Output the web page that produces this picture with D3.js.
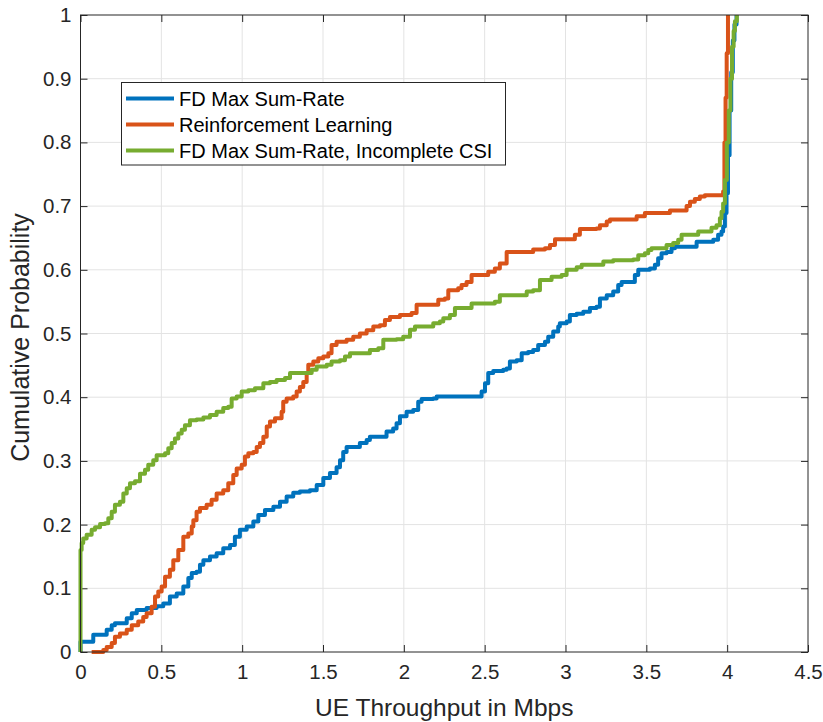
<!DOCTYPE html>
<html>
<head>
<meta charset="utf-8">
<script src="https://cdn.jsdelivr.net/npm/d3@7"></script>
<style>
  html, body { margin: 0; padding: 0; background: #ffffff; }
  svg { display: block; font-family: "Liberation Sans", Arial, Helvetica, sans-serif; }
</style>
</head>
<body>
<svg id="chart" width="823" height="722"></svg>
<script>
// Empirical CDF of per-UE throughput (Mbps) for three schemes.
const seriesNames = ["FD Max Sum-Rate", "Reinforcement Learning", "FD Max Sum-Rate, Incomplete CSI"];
const seriesColors = ["#0072BD", "#D95319", "#77AC30"];

const xTicks = [0, 0.5, 1, 1.5, 2, 2.5, 3, 3.5, 4, 4.5];
const yTicks = [0, 0.1, 0.2, 0.3, 0.4, 0.5, 0.6, 0.7, 0.8, 0.9, 1];
const xLabel = "UE Throughput in Mbps";
const yLabel = "Cumulative Probability";

// FD Max Sum-Rate: [throughput, probability]
const fdMaxSumRate = [
  [0.0,0.0],[0.0,0.016],[0.079,0.016],[0.079,0.027],[0.152,0.027],[0.162,0.035],[0.193,0.042],[0.213,0.045],
  [0.265,0.045],[0.286,0.053],[0.317,0.061],[0.348,0.066],[0.409,0.069],[0.471,0.072],[0.512,0.076],
  [0.553,0.087],[0.595,0.092],[0.636,0.103],[0.667,0.116],[0.688,0.124],[0.718,0.126],[0.739,0.137],
  [0.760,0.144],[0.801,0.150],[0.842,0.155],[0.883,0.163],[0.925,0.168],[0.955,0.181],[0.986,0.192],
  [1.028,0.197],[1.069,0.205],[1.100,0.215],[1.141,0.223],[1.193,0.228],[1.234,0.236],[1.275,0.244],
  [1.316,0.250],[1.357,0.252],[1.419,0.254],[1.461,0.262],[1.502,0.273],[1.543,0.281],[1.584,0.290],
  [1.605,0.301],[1.625,0.314],[1.646,0.322],[1.708,0.322],[1.728,0.328],[1.770,0.333],[1.790,0.338],
  [1.852,0.338],[1.893,0.346],[1.934,0.351],[1.955,0.359],[1.976,0.370],[2.017,0.377],[2.058,0.380],
  [2.089,0.393],[2.110,0.397],[2.182,0.398],[2.203,0.401],[2.450,0.401],[2.481,0.409],[2.502,0.422],
  [2.522,0.438],[2.553,0.441],[2.615,0.443],[2.636,0.445],[2.656,0.456],[2.698,0.458],[2.729,0.469],
  [2.769,0.471],[2.800,0.474],[2.831,0.482],[2.873,0.487],[2.893,0.495],[2.924,0.503],[2.955,0.511],
  [2.965,0.516],[3.007,0.519],[3.027,0.529],[3.069,0.531],[3.110,0.534],[3.151,0.540],[3.192,0.542],
  [3.213,0.555],[3.255,0.560],[3.295,0.566],[3.326,0.576],[3.347,0.581],[3.409,0.581],[3.429,0.592],
  [3.450,0.600],[3.522,0.602],[3.553,0.608],[3.573,0.618],[3.594,0.626],[3.625,0.628],[3.656,0.634],
  [3.677,0.636],[3.790,0.636],[3.811,0.644],[3.914,0.647],[3.944,0.655],[3.965,0.660],[3.975,0.668],
  [3.986,0.689],[3.996,0.720],[4.005,0.780],[4.015,0.850],[4.025,0.910],[4.035,0.960],[4.045,0.985],[4.058,1.0]
];

// Reinforcement Learning
const reinforcementLearning = [
  [0.069,0.0],[0.141,0.003],[0.162,0.008],[0.193,0.014],[0.213,0.024],[0.244,0.029],[0.286,0.035],
  [0.317,0.042],[0.357,0.048],[0.388,0.055],[0.409,0.061],[0.440,0.071],[0.461,0.087],[0.481,0.095],
  [0.502,0.103],[0.523,0.118],[0.553,0.129],[0.574,0.144],[0.605,0.160],[0.636,0.181],[0.667,0.186],
  [0.688,0.197],[0.698,0.207],[0.718,0.220],[0.739,0.226],[0.780,0.231],[0.811,0.239],[0.842,0.249],
  [0.883,0.254],[0.914,0.265],[0.945,0.278],[0.966,0.288],[0.997,0.294],[1.017,0.307],[1.038,0.312],
  [1.069,0.314],[1.090,0.322],[1.110,0.328],[1.131,0.338],[1.152,0.354],[1.172,0.362],[1.203,0.367],
  [1.244,0.377],[1.254,0.393],[1.275,0.398],[1.316,0.401],[1.337,0.409],[1.357,0.416],[1.378,0.424],
  [1.399,0.438],[1.409,0.451],[1.440,0.456],[1.471,0.461],[1.502,0.464],[1.533,0.469],[1.553,0.482],
  [1.584,0.487],[1.646,0.490],[1.687,0.495],[1.728,0.500],[1.770,0.505],[1.811,0.511],[1.852,0.513],
  [1.883,0.521],[1.914,0.526],[1.976,0.529],[2.048,0.532],[2.079,0.545],[2.192,0.545],[2.213,0.553],
  [2.254,0.555],[2.275,0.568],[2.336,0.571],[2.357,0.576],[2.388,0.581],[2.419,0.592],[2.491,0.592],
  [2.522,0.597],[2.563,0.602],[2.594,0.610],[2.636,0.628],[2.790,0.628],[2.800,0.632],[2.873,0.634],
  [2.904,0.639],[2.935,0.648],[3.038,0.648],[3.058,0.655],[3.089,0.664],[3.192,0.665],[3.213,0.670],
  [3.255,0.676],[3.275,0.679],[3.419,0.679],[3.440,0.684],[3.491,0.689],[3.625,0.689],[3.646,0.693],
  [3.728,0.693],[3.749,0.700],[3.770,0.707],[3.800,0.711],[3.831,0.715],[3.862,0.717],[3.955,0.717],
  [3.975,0.723],[3.983,0.800],[3.990,0.870],[3.997,0.940],[4.005,1.0]
];

// FD Max Sum-Rate with incomplete CSI
const fdIncompleteCsi = [
  [0.0,0.0],[0.0,0.160],[0.007,0.171],[0.017,0.178],[0.038,0.184],[0.069,0.192],[0.090,0.196],
  [0.121,0.201],[0.152,0.202],[0.172,0.210],[0.193,0.220],[0.213,0.231],[0.244,0.236],[0.265,0.249],
  [0.286,0.257],[0.306,0.265],[0.337,0.268],[0.368,0.280],[0.399,0.286],[0.419,0.294],[0.450,0.301],
  [0.471,0.309],[0.523,0.312],[0.543,0.320],[0.564,0.328],[0.584,0.335],[0.605,0.343],[0.626,0.349],
  [0.646,0.356],[0.677,0.364],[0.718,0.365],[0.760,0.368],[0.801,0.372],[0.842,0.377],[0.883,0.383],
  [0.914,0.385],[0.935,0.398],[0.966,0.401],[0.997,0.409],[1.038,0.411],[1.079,0.414],[1.131,0.422],
  [1.172,0.424],[1.213,0.427],[1.265,0.430],[1.296,0.438],[1.388,0.438],[1.430,0.443],[1.461,0.448],
  [1.502,0.448],[1.523,0.451],[1.553,0.456],[1.605,0.458],[1.636,0.464],[1.667,0.469],[1.749,0.469],
  [1.790,0.474],[1.842,0.477],[1.873,0.490],[1.955,0.491],[1.996,0.495],[2.038,0.506],[2.069,0.511],
  [2.161,0.511],[2.182,0.516],[2.223,0.519],[2.244,0.524],[2.285,0.529],[2.316,0.540],[2.388,0.540],
  [2.419,0.547],[2.563,0.550],[2.594,0.560],[2.729,0.560],[2.760,0.566],[2.800,0.568],[2.842,0.584],
  [2.893,0.584],[2.914,0.589],[2.976,0.592],[3.007,0.600],[3.069,0.604],[3.100,0.608],[3.213,0.608],
  [3.234,0.613],[3.295,0.615],[3.419,0.616],[3.450,0.623],[3.491,0.626],[3.512,0.631],[3.532,0.634],
  [3.604,0.634],[3.625,0.639],[3.666,0.642],[3.697,0.647],[3.718,0.655],[3.790,0.655],[3.821,0.660],
  [3.873,0.660],[3.903,0.666],[3.934,0.670],[3.955,0.681],[3.965,0.691],[3.975,0.704],[3.986,0.741],
  [3.998,0.800],[4.010,0.850],[4.020,0.900],[4.030,0.950],[4.040,0.975],[4.048,0.990],[4.060,1.0]
];

const seriesData = [fdMaxSumRate, reinforcementLearning, fdIncompleteCsi];

const svg = d3.select("#chart");
const margin = { left: 80.5, right: 15, top: 15, bottom: 70 };
const W = 823, H = 722;
const x = d3.scaleLinear().domain([0, 4.5]).range([margin.left, W - margin.right]);
const y = d3.scaleLinear().domain([0, 1]).range([H - margin.bottom, margin.top]);

const axisColor = "#262626";
const gridColor = "#e3e3e3";

// grid
const grid = svg.append("g");
grid.selectAll("line.gx").data(xTicks.slice(1, -1)).join("line")
  .attr("x1", d => x(d)).attr("x2", d => x(d))
  .attr("y1", y(0)).attr("y2", y(1))
  .attr("stroke", gridColor).attr("stroke-width", 1);
grid.selectAll("line.gy").data(yTicks.slice(1, -1)).join("line")
  .attr("x1", x(0)).attr("x2", x(4.5))
  .attr("y1", d => y(d)).attr("y2", d => y(d))
  .attr("stroke", gridColor).attr("stroke-width", 1);

// axes with inward ticks on all four sides
const tickLen = 7;
const fmt = d => d3.format("")(d);
function styleAxis(g) {
  g.select(".domain").remove();
  g.selectAll(".tick line").attr("stroke", axisColor).attr("stroke-width", 1);
  g.selectAll(".tick text").attr("fill", axisColor)
    .style("font-size", "20.5px").style("font-family", "'Liberation Sans', Arial, sans-serif");
}
svg.append("g").attr("transform", `translate(0,${y(0)})`)
  .call(d3.axisBottom(x).tickValues(xTicks).tickFormat(fmt).tickSizeInner(-tickLen).tickSizeOuter(0).tickPadding(12))
  .call(styleAxis);
svg.append("g").attr("transform", `translate(${x(0)},0)`)
  .call(d3.axisLeft(y).tickValues(yTicks).tickFormat(fmt).tickSizeInner(-tickLen).tickSizeOuter(0).tickPadding(9))
  .call(styleAxis);
svg.append("g").attr("transform", `translate(0,${y(1)})`)
  .call(d3.axisTop(x).tickValues(xTicks).tickFormat("").tickSizeInner(-tickLen).tickSizeOuter(0))
  .call(styleAxis);
svg.append("g").attr("transform", `translate(${x(4.5)},0)`)
  .call(d3.axisRight(y).tickValues(yTicks).tickFormat("").tickSizeInner(-tickLen).tickSizeOuter(0))
  .call(styleAxis);

// data lines, drawn as empirical-CDF staircases
const line = d3.line().x(d => x(d[0])).y(d => y(d[1])).curve(d3.curveStepAfter);
svg.append("g").selectAll("path").data(seriesData).join("path")
  .attr("d", line)
  .attr("fill", "none")
  .attr("stroke", (d, i) => seriesColors[i])
  .attr("stroke-width", 4)
  .attr("stroke-linejoin", "round");

// plot box
svg.append("rect")
  .attr("x", x(0)).attr("y", y(1))
  .attr("width", x(4.5) - x(0)).attr("height", y(0) - y(1))
  .attr("fill", "none").attr("stroke", axisColor).attr("stroke-width", 1);

// axis labels
svg.append("text")
  .attr("x", (x(0) + x(4.5)) / 2).attr("y", 716)
  .attr("text-anchor", "middle").attr("fill", axisColor)
  .style("font-size", "24.5px")
  .text(xLabel);
svg.append("text")
  .attr("transform", `translate(29,${(y(0) + y(1)) / 2 + 4}) rotate(-90)`)
  .attr("text-anchor", "middle").attr("fill", axisColor)
  .style("font-size", "25px")
  .text(yLabel);

// legend
const lg = svg.append("g");
lg.append("rect")
  .attr("x", 121.5).attr("y", 82.5).attr("width", 384).attr("height", 82.5)
  .attr("fill", "#ffffff").attr("stroke", axisColor).attr("stroke-width", 1);
const rowY = [98.5, 124.5, 150.5];
seriesNames.forEach((name, i) => {
  lg.append("line")
    .attr("x1", 126).attr("x2", 174).attr("y1", rowY[i]).attr("y2", rowY[i])
    .attr("stroke", seriesColors[i]).attr("stroke-width", 4);
  lg.append("text")
    .attr("x", 179).attr("y", rowY[i]).attr("dy", "0.35em")
    .attr("fill", "#000000")
    .style("font-size", "20px")
    .text(name);
});
</script>
</body>
</html>
